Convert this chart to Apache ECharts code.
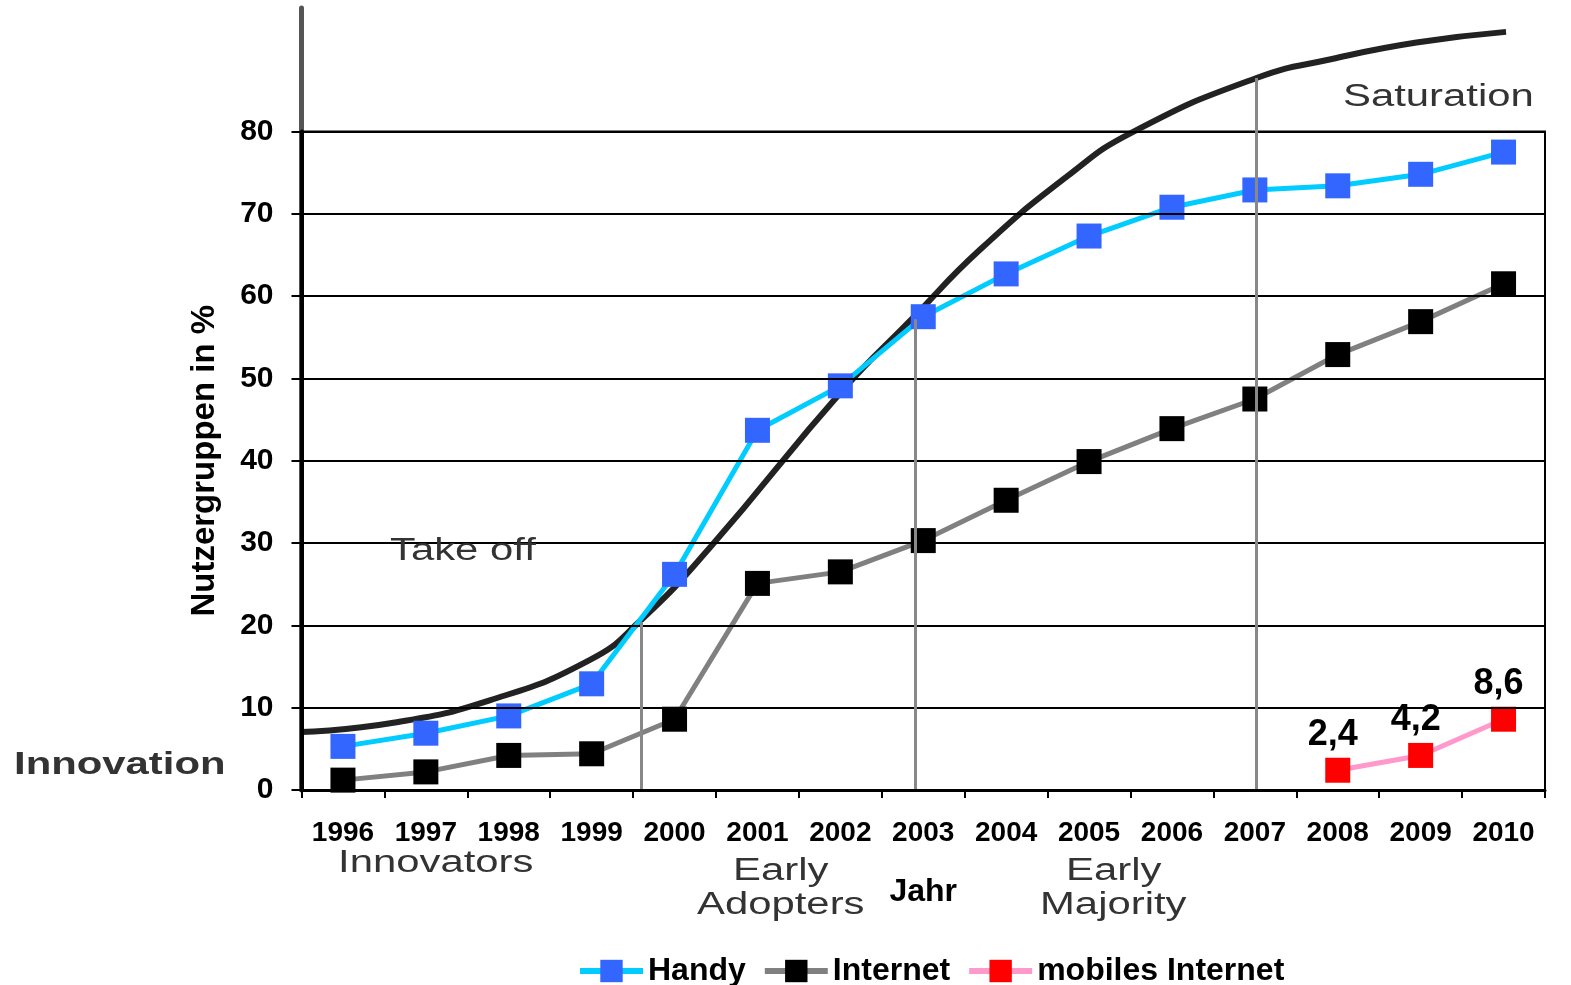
<!DOCTYPE html>
<html>
<head>
<meta charset="utf-8">
<script src="https://cdn.jsdelivr.net/npm/echarts@6/dist/echarts.min.js"></script>
<style>
  html, body { margin: 0; padding: 0; background: #fff; }
  #chart { width: 1571px; height: 985px; }
</style>
</head>
<body>
<div id="chart"></div>
<script>
// Jahre (Kategorien)
const years = ['1996', '1997', '1998', '1999', '2000', '2001', '2002', '2003',
  '2004', '2005', '2006', '2007', '2008', '2009', '2010'];

// Nutzergruppen in %
const handy = [5.3, 6.9, 9.0, 12.9, 26.2, 43.7, 49.1, 57.5, 62.7, 67.3, 70.8, 72.9, 73.4, 74.8, 77.5];
const internet = [1.2, 2.2, 4.2, 4.4, 8.6, 25.1, 26.5, 30.3, 35.2, 39.9, 43.9, 47.5, 52.9, 56.9, 61.5];
const mobilesInternet = [null, null, null, null, null, null, null, null, null, null, null, null, 2.4, 4.2, 8.6];

// S-Kurve (Diffusionskurve) als [Jahr, Wert]
const sCurveX = [1995.5, 1996.57, 1997.77, 1998.98, 1999.58, 2000.43, 2002.03, 2002.87,
  2003.68, 2004.73, 2005.52, 2007.02, 2007.93, 2008.95, 2010.03];
const sCurveY = [7.05, 8.1, 10.9, 15.8, 20.5, 29.5, 48.6, 57.3,
  65.6, 74.5, 79.9, 86.5, 88.8, 90.8, 92.1];

// Phasengrenzen (senkrechte Linien) [Jahr, Höhe]
const phaseX = [1999.6, 2002.9, 2007.02];
const phaseY = [20.4, 57.2, 86.5];

const bold = '"Liberation Sans", Arial, sans-serif';
const sans = '"Liberation Sans", Arial, sans-serif';

const chart = echarts.init(document.getElementById('chart'));

const curveData = sCurveX.map((x, i) => [x, sCurveY[i]]);
const phaseLines = phaseX.map((x, i) => [{ coord: [x, 0] }, { coord: [x, phaseY[i]] }]);

function note(text, x, y, weight) {
  return {
    type: 'text',
    x: x,
    y: y,
    scaleX: 1.35,
    z: 50,
    style: {
      text: text,
      font: (weight || 'normal') + ' 31px ' + sans,
      fill: '#333',
      textVerticalAlign: 'middle'
    }
  };
}

const option = {
  backgroundColor: '#fff',
  animation: false,
  grid: [
    { left: 301.5, right: 26, top: 131.5, bottom: 195, show: true, borderColor: '#000', borderWidth: 2, backgroundColor: 'transparent' },
    { left: 301.5, right: 26, top: 8, bottom: 195 }
  ],
  legend: {
    left: 572,
    top: 950,
    itemWidth: 63,
    itemHeight: 28,
    itemGap: 16,
    data: ['Handy', 'Internet', 'mobiles Internet'],
    lineStyle: { width: 6 },
    textStyle: { fontFamily: bold, fontWeight: 'bold', fontSize: 32, color: '#000' }
  },
  xAxis: [
    {
      type: 'category',
      gridIndex: 0,
      data: years,
      boundaryGap: true,
      name: 'Jahr',
      nameLocation: 'middle',
      nameGap: 86,
      nameTextStyle: { fontFamily: bold, fontWeight: 'bold', fontSize: 32, color: '#000' },
      axisLine: { lineStyle: { color: '#000', width: 3 } },
      axisTick: { show: true, length: 8, lineStyle: { color: '#000', width: 2 } },
      axisLabel: { interval: 0, margin: 29, fontFamily: bold, fontWeight: 'bold', fontSize: 28, color: '#000' },
      z: 5
    },
    {
      type: 'value',
      gridIndex: 1,
      min: 1995.5,
      max: 2010.5,
      show: false
    }
  ],
  yAxis: [
    {
      type: 'value',
      gridIndex: 0,
      min: 0,
      max: 80,
      interval: 10,
      name: 'Nutzergruppen in %',
      nameLocation: 'middle',
      nameGap: 80,
      nameTextStyle: { fontFamily: sans, fontWeight: 'bold', fontSize: 33, color: '#000' },
      axisLine: { show: true, lineStyle: { color: '#000', width: 4 } },
      axisTick: { show: true, length: 10, lineStyle: { color: '#000', width: 2 } },
      axisLabel: { margin: 28, fontFamily: bold, fontWeight: 'bold', fontSize: 30, color: '#000' },
      splitLine: { lineStyle: { color: '#000', width: 2 } },
      z: 5
    },
    {
      type: 'value',
      gridIndex: 1,
      min: 0,
      max: 95,
      axisLine: { show: true, lineStyle: { color: '#555', width: 5 } },
      axisTick: { show: false },
      axisLabel: { show: false },
      splitLine: { show: false },
      z: 0
    }
  ],
  series: [
    {
      name: 'S-Kurve',
      type: 'line',
      xAxisIndex: 1,
      yAxisIndex: 1,
      data: curveData,
      smooth: 0.5,
      symbol: 'none',
      silent: true,
      z: 1,
      lineStyle: { color: '#222', width: 6 },
      markLine: {
        silent: true,
        symbol: ['none', 'none'],
        label: { show: false },
        lineStyle: { color: '#888', width: 3, type: 'solid' },
        data: phaseLines
      }
    },
    {
      name: 'Handy',
      type: 'line',
      data: handy,
      symbol: 'rect',
      symbolSize: 25,
      z: 4,
      lineStyle: { color: '#00CCFF', width: 5 },
      itemStyle: { color: '#3366FF' }
    },
    {
      name: 'Internet',
      type: 'line',
      data: internet,
      symbol: 'rect',
      symbolSize: 25,
      z: 3,
      lineStyle: { color: '#808080', width: 5 },
      itemStyle: { color: '#000' }
    },
    {
      name: 'mobiles Internet',
      type: 'line',
      data: mobilesInternet,
      symbol: 'rect',
      symbolSize: 25,
      z: 4,
      lineStyle: { color: '#FF99CC', width: 5 },
      itemStyle: { color: '#FF0000' },
      label: {
        show: true,
        position: 'top',
        distance: 5,
        offset: [-5, 0],
        fontFamily: sans,
        fontWeight: 'bold',
        fontSize: 36,
        color: '#000',
        formatter: p => String(p.value).replace('.', ',')
      }
    }
  ],
  graphic: [
    note('Innovation', 14, 765, 'bold'),
    note('Take off', 390, 551),
    note('Saturation', 1343, 97),
    note('Innovators', 338, 863),
    note('Early', 733, 871),
    note('Adopters', 697, 905),
    note('Early', 1066, 871),
    note('Majority', 1040, 905)
  ]
};

chart.setOption(option);
</script>
</body>
</html>
